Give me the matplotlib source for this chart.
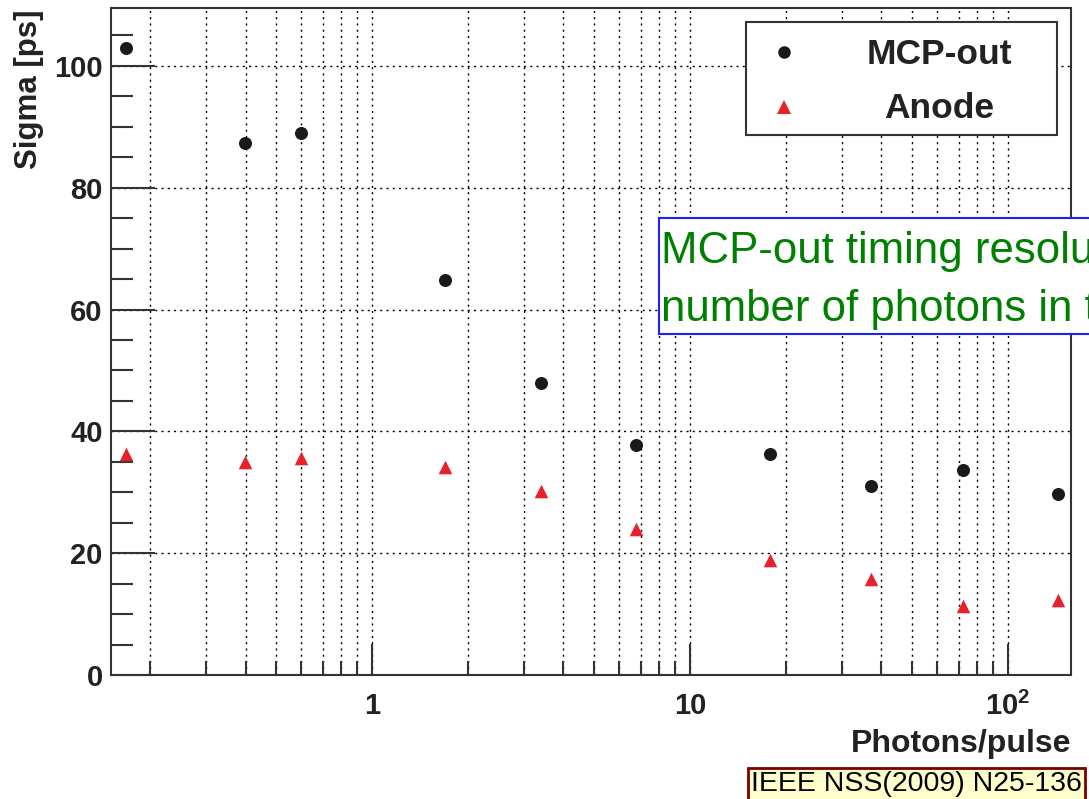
import matplotlib
matplotlib.use("Agg")
import matplotlib.pyplot as plt
from matplotlib.ticker import FixedLocator, LogLocator, NullFormatter, FixedFormatter, MultipleLocator
from matplotlib.patches import Rectangle
from matplotlib.lines import Line2D

# Data
photons = [0.168, 0.399, 0.598, 1.70, 3.40, 6.77, 17.9, 37.1, 72.2, 143.6]
mcp_out = [102.9, 87.4, 89.0, 64.8, 48.0, 37.7, 36.2, 31.0, 33.6, 29.7]
anode = [36.2, 34.9, 35.6, 34.1, 30.2, 23.9, 18.9, 15.7, 11.3, 12.3]
series_names = ["MCP-out", "Anode"]
xtick_vals = [1, 10, 100]
xtick_labels = ["1", "10", r"10$^{2}$"]
ytick_vals = [0, 20, 40, 60, 80, 100]
note_lines = ["MCP-out timing resolution vs.", "number of photons in the pulse"]
citation = "IEEE NSS(2009) N25-136"

plt.rcParams['font.family'] = ['Liberation Sans', 'DejaVu Sans']
plt.rcParams['mathtext.fontset'] = 'custom'
plt.rcParams['mathtext.rm'] = 'Liberation Sans:bold'
plt.rcParams['mathtext.bf'] = 'Liberation Sans:bold'

W, H = 1089, 799
fig = plt.figure(figsize=(W / 100, H / 100), dpi=100)


def fx(px):
    return px / W


def fy(py):
    return 1 - py / H


ax = fig.add_axes([fx(111), fy(675), (1071 - 111) / W, (675 - 8) / H])

ax.set_xscale('log')
ax.set_xlim(0.151, 158)
ax.set_ylim(0, 109.5)

ax.xaxis.set_major_locator(FixedLocator(xtick_vals))
ax.xaxis.set_minor_locator(LogLocator(base=10, subs=range(2, 10)))
ax.xaxis.set_major_formatter(FixedFormatter(xtick_labels))
ax.xaxis.set_minor_formatter(NullFormatter())
ax.yaxis.set_major_locator(FixedLocator(ytick_vals))
ax.yaxis.set_minor_locator(MultipleLocator(5))

gkw = dict(color='black', linestyle=(0, (1.5, 3)), linewidth=1.0)
ax.grid(True, which='major', axis='both', **gkw)
ax.grid(True, which='minor', axis='x', **gkw)
ax.set_axisbelow(True)

mcp_style = dict(marker='o', color='#1a1a1a')
an_style = dict(marker='^', color='#e8202a')
ax.scatter(photons, mcp_out, s=88, zorder=3, linewidths=0, **mcp_style)
ax.scatter(photons, anode, s=95, zorder=3, linewidths=0, **an_style)

ax.tick_params(axis='both', which='both', direction='in', top=False, right=False,
               colors='#333333', width=1.5)
ax.tick_params(axis='x', which='major', length=22, pad=12)
ax.tick_params(axis='x', which='minor', length=10)
ax.tick_params(axis='y', which='major', length=32, pad=6)
ax.tick_params(axis='y', which='minor', length=16)
for lab in ax.get_xticklabels() + ax.get_yticklabels():
    lab.set_fontweight('bold')
    lab.set_fontsize(21)
    lab.set_color('#222222')
for sp in ax.spines.values():
    sp.set_color('#333333')
    sp.set_linewidth(1.5)

ax.set_ylabel('Sigma [ps]', fontsize=22.5, fontweight='bold', color='#222222')
ax.yaxis.set_label_coords((29 - 111) / 960, 0.998)
ax.yaxis.label.set_horizontalalignment('right')
ax.yaxis.label.set_verticalalignment('center')
ax.set_xlabel('Photons/pulse', fontsize=23, fontweight='bold', color='#222222')
ax.xaxis.set_label_coords(1.0, -(744 - 675) / 667)
ax.xaxis.label.set_horizontalalignment('right')
ax.xaxis.label.set_verticalalignment('center')

# legend (ROOT-style, centred labels)
fig.patches.append(Rectangle((fx(746), fy(135)), (1057 - 746) / W, (135 - 22) / H,
                             transform=fig.transFigure, facecolor='white',
                             edgecolor='#333333', linewidth=1.5, zorder=5))
for name, style, ypx, ms in [(series_names[0], mcp_style, 52, 9),
                             (series_names[1], an_style, 107, 10)]:
    fig.lines.append(Line2D([fx(784)], [fy(ypx)], transform=fig.transFigure,
                            linestyle='none', markersize=ms, markeredgewidth=0,
                            zorder=6, **style))
    fig.text(fx(939), fy(ypx + 2), name, fontsize=25.5, fontweight='bold', color='#222222',
             ha='center', va='center', zorder=6)

# annotation box (runs off the right edge, as in the original)
fig.patches.append(Rectangle((fx(659), fy(334)), (1110 - 659) / W, (334 - 218) / H,
                             transform=fig.transFigure, facecolor='white',
                             edgecolor='#2020ff', linewidth=1.5, zorder=5))
for line, ybase in zip(note_lines, [263, 321]):
    fig.text(fx(661), fy(ybase), line, fontsize=31.5, color='#008000',
             ha='left', va='baseline', zorder=6)

# citation box
fig.text(fx(751), fy(784), citation, fontsize=20.5, color='black',
         ha='left', va='center',
         bbox=dict(boxstyle='square,pad=0.12', facecolor='#ffffcc', edgecolor='#7a0000', linewidth=2))

fig.savefig('out.png', dpi=100)
